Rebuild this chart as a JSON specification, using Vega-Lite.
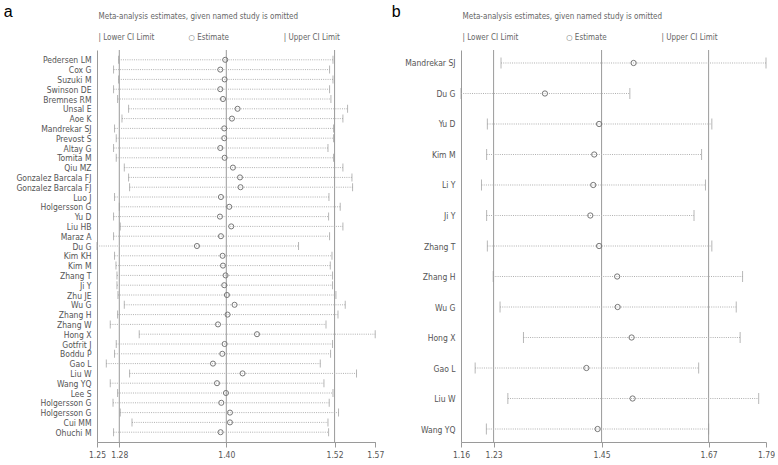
{
  "$schema": "https://vega.github.io/schema/vega-lite/v6.json",
  "background": "white",
  "padding": {"left": 3, "top": 3, "right": 0, "bottom": 0},
  "spacing": 7,
  "config": {
    "view": {"stroke": null},
    "font": "DejaVu Sans Condensed, sans-serif"
  },
  "hconcat": [
    {
      "width": 278.3,
      "height": 392,
      "data": {"values": [
        {"study": "Pedersen LM", "lo": 1.2787, "est": 1.3979, "hi": 1.5183},
        {"study": "Cox G", "lo": 1.2731, "est": 1.3924, "hi": 1.5145},
        {"study": "Suzuki M", "lo": 1.2787, "est": 1.3972, "hi": 1.5183},
        {"study": "Swinson DE", "lo": 1.2731, "est": 1.3924, "hi": 1.5145},
        {"study": "Bremnes RM", "lo": 1.2776, "est": 1.3954, "hi": 1.5160},
        {"study": "Unsal E", "lo": 1.2899, "est": 1.4117, "hi": 1.5346},
        {"study": "Aoe K", "lo": 1.2825, "est": 1.4054, "hi": 1.5294},
        {"study": "Mandrekar SJ", "lo": 1.2742, "est": 1.3968, "hi": 1.5189},
        {"study": "Prevost S", "lo": 1.2761, "est": 1.3968, "hi": 1.5189},
        {"study": "Altay G", "lo": 1.2731, "est": 1.3924, "hi": 1.5127},
        {"study": "Tomita M", "lo": 1.2761, "est": 1.3972, "hi": 1.5189},
        {"study": "Qiu MZ", "lo": 1.2851, "est": 1.4065, "hi": 1.5294},
        {"study": "Gonzalez Barcala FJ", "lo": 1.2899, "est": 1.4144, "hi": 1.5395},
        {"study": "Gonzalez Barcala FJ#2", "lo": 1.2910, "est": 1.4150, "hi": 1.5402},
        {"study": "Luo J", "lo": 1.2742, "est": 1.3931, "hi": 1.5138},
        {"study": "Holgersson G", "lo": 1.2795, "est": 1.4024, "hi": 1.5264},
        {"study": "Yu D", "lo": 1.2731, "est": 1.3920, "hi": 1.5134},
        {"study": "Liu HB", "lo": 1.2806, "est": 1.4046, "hi": 1.5294},
        {"study": "Maraz A", "lo": 1.2731, "est": 1.3931, "hi": 1.5145},
        {"study": "Du G", "lo": 1.2546, "est": 1.3663, "hi": 1.4798},
        {"study": "Kim KH", "lo": 1.2742, "est": 1.3949, "hi": 1.5172},
        {"study": "Kim M", "lo": 1.2758, "est": 1.3954, "hi": 1.5153},
        {"study": "Zhang T", "lo": 1.2769, "est": 1.3983, "hi": 1.5178},
        {"study": "Ji Y", "lo": 1.2769, "est": 1.3968, "hi": 1.5178},
        {"study": "Zhu JE", "lo": 1.2780, "est": 1.3998, "hi": 1.5216},
        {"study": "Wu G", "lo": 1.2851, "est": 1.4083, "hi": 1.5320},
        {"study": "Zhang H", "lo": 1.2776, "est": 1.4005, "hi": 1.5239},
        {"study": "Zhang W", "lo": 1.2694, "est": 1.3898, "hi": 1.5105},
        {"study": "Hong X", "lo": 1.3018, "est": 1.4334, "hi": 1.5655},
        {"study": "Gotfrit J", "lo": 1.2761, "est": 1.3972, "hi": 1.5178},
        {"study": "Boddu P", "lo": 1.2742, "est": 1.3946, "hi": 1.5156},
        {"study": "Gao L", "lo": 1.2650, "est": 1.3842, "hi": 1.5041},
        {"study": "Liu W", "lo": 1.2910, "est": 1.4173, "hi": 1.5446},
        {"study": "Wang YQ", "lo": 1.2694, "est": 1.3887, "hi": 1.5082},
        {"study": "Lee S", "lo": 1.2776, "est": 1.3987, "hi": 1.5183},
        {"study": "Holgersson G#2", "lo": 1.2725, "est": 1.3935, "hi": 1.5141},
        {"study": "Holgersson G#3", "lo": 1.2806, "est": 1.4032, "hi": 1.5245},
        {"study": "Cui MM", "lo": 1.2937, "est": 1.4032, "hi": 1.5127},
        {"study": "Ohuchi M", "lo": 1.2731, "est": 1.3927, "hi": 1.5134}
      ]},
      "layer": [
        {
          "data": {"values": [{"ref": 1.2795}, {"ref": 1.3991}, {"ref": 1.5201}]},
          "mark": {"type": "rule", "color": "#9a9a9a", "strokeWidth": 1},
          "encoding": {
            "x": {"field": "ref", "type": "quantitative",
              "scale": {"domain": [1.2546, 1.5656], "nice": false, "zero": false},
              "axis": {
                "values": [1.2546, 1.2795, 1.3991, 1.5201, 1.5656],
                "format": ".2f", "grid": false,
                "domainColor": "#9a9a9a", "tickColor": "#9a9a9a", "tickSize": 5,
                "labelPadding": 3, "labelColor": "#555555", "labelFontSize": 8.5,
                "labelFlush": false, "labelOverlap": false,
                "title": ["Meta-analysis estimates, given named study is omitted", "|\u00a0Lower CI Limit\u00a0\u00a0\u00a0\u00a0\u00a0\u00a0\u00a0\u00a0\u00a0\u00a0\u00a0\u00a0\u00a0\u00a0\u00a0\u25cb\u00a0Estimate\u00a0\u00a0\u00a0\u00a0\u00a0\u00a0\u00a0\u00a0\u00a0\u00a0\u00a0\u00a0\u00a0\u00a0\u00a0\u00a0\u00a0\u00a0\u00a0\u00a0\u00a0\u00a0\u00a0\u00a0|\u00a0Upper CI Limit"],
                "titleX": 1, "titleY": -424, "titleAlign": "left", "titleAnchor": "start",
                "titleBaseline": "alphabetic", "titleFontSize": 8, "titleFontWeight": "normal",
                "titleColor": "#666666", "titleLineHeight": 21
              }
            }
          }
        },
        {
          "mark": {"type": "rule", "color": "#b0b0b0", "strokeDash": [1, 1.2], "strokeWidth": 1},
          "encoding": {
            "x": {"field": "lo", "type": "quantitative", "scale": {"domain": [1.2546, 1.5656], "nice": false, "zero": false}},
            "x2": {"field": "hi"},
            "y": {"field": "study", "type": "nominal", "sort": null, "scale": {"type": "point", "padding": 1.35},
              "axis": {
                "domain": true, "domainColor": "#9a9a9a", "ticks": false, "grid": false,
                "labelPadding": 6, "labelColor": "#555555", "labelFontSize": 8.5,
                "labelOverlap": false, "labelExpr": "split(datum.label, '#')[0]",
                "title": "a", "titleAngle": 0, "titleX": -93.7, "titleY": -34,
                "titleAlign": "left", "titleBaseline": "alphabetic",
                "titleFont": "Liberation Sans, Arial, sans-serif", "titleFontSize": 16,
                "titleFontWeight": "normal", "titleColor": "#000000"
              }
            }
          }
        },
        {
          "mark": {"type": "tick", "color": "#999999", "thickness": 1, "size": 8},
          "encoding": {
            "x": {"field": "lo", "type": "quantitative", "scale": {"domain": [1.2546, 1.5656], "nice": false, "zero": false}},
            "y": {"field": "study", "type": "nominal", "sort": null, "scale": {"type": "point", "padding": 1.35}}
          }
        },
        {
          "mark": {"type": "tick", "color": "#999999", "thickness": 1, "size": 8},
          "encoding": {
            "x": {"field": "hi", "type": "quantitative", "scale": {"domain": [1.2546, 1.5656], "nice": false, "zero": false}},
            "y": {"field": "study", "type": "nominal", "sort": null, "scale": {"type": "point", "padding": 1.35}}
          }
        },
        {
          "mark": {"type": "point", "shape": "circle", "filled": false, "color": "#777777", "size": 26, "strokeWidth": 1, "opacity": 1},
          "encoding": {
            "x": {"field": "est", "type": "quantitative", "scale": {"domain": [1.2546, 1.5656], "nice": false, "zero": false}},
            "y": {"field": "study", "type": "nominal", "sort": null, "scale": {"type": "point", "padding": 1.35}}
          }
        }
      ]
    },
    {
      "width": 305,
      "height": 392,
      "data": {"values": [
        {"study": "Mandrekar SJ", "lo": 1.245, "est": 1.5167, "hi": 1.788},
        {"study": "Du G", "lo": 1.163, "est": 1.335, "hi": 1.509},
        {"study": "Yu D", "lo": 1.217, "est": 1.446, "hi": 1.677},
        {"study": "Kim M", "lo": 1.2155, "est": 1.436, "hi": 1.656},
        {"study": "Li Y", "lo": 1.205, "est": 1.434, "hi": 1.664},
        {"study": "Ji Y", "lo": 1.2155, "est": 1.428, "hi": 1.6405},
        {"study": "Zhang T", "lo": 1.217, "est": 1.446, "hi": 1.677},
        {"study": "Zhang H", "lo": 1.229, "est": 1.483, "hi": 1.740},
        {"study": "Wu G", "lo": 1.243, "est": 1.484, "hi": 1.727},
        {"study": "Hong X", "lo": 1.291, "est": 1.5126, "hi": 1.735},
        {"study": "Gao L", "lo": 1.192, "est": 1.420, "hi": 1.650},
        {"study": "Liu W", "lo": 1.259, "est": 1.5146, "hi": 1.773},
        {"study": "Wang YQ", "lo": 1.215, "est": 1.443, "hi": 1.6704}
      ]},
      "layer": [
        {
          "data": {"values": [{"ref": 1.2298}, {"ref": 1.4511}, {"ref": 1.6704}]},
          "mark": {"type": "rule", "color": "#9a9a9a", "strokeWidth": 1},
          "encoding": {
            "x": {"field": "ref", "type": "quantitative",
              "scale": {"domain": [1.163, 1.788], "nice": false, "zero": false},
              "axis": {
                "values": [1.163, 1.2298, 1.4511, 1.6704, 1.788],
                "format": ".2f", "grid": false,
                "domainColor": "#9a9a9a", "tickColor": "#9a9a9a", "tickSize": 5,
                "labelPadding": 3, "labelColor": "#555555", "labelFontSize": 8.5,
                "labelFlush": false, "labelOverlap": false,
                "title": ["Meta-analysis estimates, given named study is omitted", "|\u00a0Lower CI Limit\u00a0\u00a0\u00a0\u00a0\u00a0\u00a0\u00a0\u00a0\u00a0\u00a0\u00a0\u00a0\u00a0\u00a0\u00a0\u00a0\u00a0\u00a0\u00a0\u00a0\u00a0\u25cb\u00a0Estimate\u00a0\u00a0\u00a0\u00a0\u00a0\u00a0\u00a0\u00a0\u00a0\u00a0\u00a0\u00a0\u00a0\u00a0\u00a0\u00a0\u00a0\u00a0\u00a0\u00a0\u00a0\u00a0\u00a0\u00a0|\u00a0Upper CI Limit"],
                "titleX": 1, "titleY": -424, "titleAlign": "left", "titleAnchor": "start",
                "titleBaseline": "alphabetic", "titleFontSize": 8, "titleFontWeight": "normal",
                "titleColor": "#666666", "titleLineHeight": 21
              }
            }
          }
        },
        {
          "mark": {"type": "rule", "color": "#b0b0b0", "strokeDash": [1, 1.2], "strokeWidth": 1},
          "encoding": {
            "x": {"field": "lo", "type": "quantitative", "scale": {"domain": [1.163, 1.788], "nice": false, "zero": false}},
            "x2": {"field": "hi"},
            "y": {"field": "study", "type": "nominal", "sort": null, "scale": {"type": "point", "padding": 0.426},
              "axis": {
                "domain": true, "domainColor": "#9a9a9a", "ticks": false, "grid": false,
                "labelPadding": 6, "labelColor": "#555555", "labelFontSize": 8.5,
                "labelOverlap": false,
                "title": "b", "titleAngle": 0, "titleX": -69.7, "titleY": -34,
                "titleAlign": "left", "titleBaseline": "alphabetic",
                "titleFont": "Liberation Sans, Arial, sans-serif", "titleFontSize": 16,
                "titleFontWeight": "normal", "titleColor": "#000000"
              }
            }
          }
        },
        {
          "mark": {"type": "tick", "color": "#999999", "thickness": 1, "size": 11},
          "encoding": {
            "x": {"field": "lo", "type": "quantitative", "scale": {"domain": [1.163, 1.788], "nice": false, "zero": false}},
            "y": {"field": "study", "type": "nominal", "sort": null, "scale": {"type": "point", "padding": 0.426}}
          }
        },
        {
          "mark": {"type": "tick", "color": "#999999", "thickness": 1, "size": 11},
          "encoding": {
            "x": {"field": "hi", "type": "quantitative", "scale": {"domain": [1.163, 1.788], "nice": false, "zero": false}},
            "y": {"field": "study", "type": "nominal", "sort": null, "scale": {"type": "point", "padding": 0.426}}
          }
        },
        {
          "mark": {"type": "point", "shape": "circle", "filled": false, "color": "#777777", "size": 28, "strokeWidth": 1, "opacity": 1},
          "encoding": {
            "x": {"field": "est", "type": "quantitative", "scale": {"domain": [1.163, 1.788], "nice": false, "zero": false}},
            "y": {"field": "study", "type": "nominal", "sort": null, "scale": {"type": "point", "padding": 0.426}}
          }
        }
      ]
    }
  ]
}
